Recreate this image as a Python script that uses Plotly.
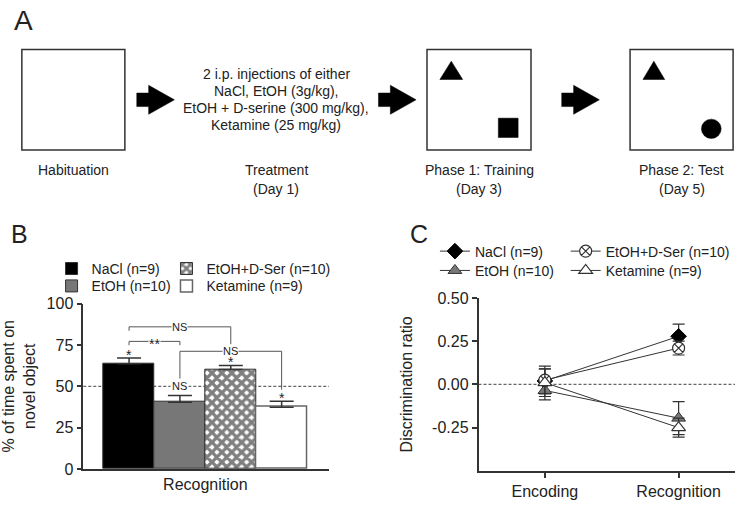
import plotly.graph_objects as go

W, H = 742, 505
FONT = "Liberation Sans, Arial, Helvetica, sans-serif"
INK = "#333333"

# ---------------- Panel B data ----------------
groups = ["NaCl (n=9)", "EtOH (n=10)", "EtOH+D-Ser (n=10)", "Ketamine (n=9)"]
pct_novel = [63.7, 40.4, 60.2, 37.4]
pct_sem = [3.5, 4.0, 2.4, 3.5]
bar_marks = ["*", "NS", "*", "*"]
chance_pct = 50
pct_ticks = [0, 25, 50, 75, 100]
# brackets: left bar, right bar, bracket level, left end, right end, label
comp_left = [0, 0, 1]
comp_right = [2, 1, 3]
comp_level = [86.0, 77.2, 71.2]
comp_left_end = [83.6, 74.9, 53.8]
comp_right_end = [75.4, 74.9, 48.0]
comp_label = ["NS", "**", "NS"]

# ---------------- Panel C data ----------------
phases = ["Encoding", "Recognition"]
disc_nacl = [0.02, 0.278]
disc_nacl_sem = [0.07, 0.07]
disc_etoh = [-0.035, -0.195]
disc_etoh_sem = [0.055, 0.095]
disc_dser = [0.025, 0.21]
disc_dser_sem = [0.08, 0.04]
disc_ket = [0.01, -0.25]
disc_ket_sem = [0.08, 0.055]
disc_ticks = [0.5, 0.25, 0.0, -0.25]
disc_ticktext = ["0.50", "0.25", "0.00", "-0.25"]


def X(px):
    return px / W


def Y(py):
    return 1 - py / H


fig = go.Figure()

# ---------------- Panel B bars ----------------
bar_styles = [
    dict(color="black", line=dict(color=INK, width=1)),
    dict(color="#777777", line=dict(color=INK, width=1)),
    dict(color="white", line=dict(color=INK, width=1),
         pattern=dict(shape="x", fgcolor="black", bgcolor="white", size=7, solidity=0.72)),
    dict(color="white", line=dict(color="#666666", width=1.5)),
]
legB = ["legend", "legend2", "legend3", "legend4"]
for i, g in enumerate(groups):
    fig.add_trace(go.Bar(
        x=[i], y=[pct_novel[i]], width=1, name=g, legend=legB[i],
        marker=bar_styles[i],
        error_y=dict(type="data", symmetric=False, array=[pct_sem[i]], arrayminus=[0],
                     color=INK, thickness=1.5, width=12),
        xaxis="x", yaxis="y",
    ))

# brackets
for k in range(len(comp_label)):
    a, b = comp_left[k], comp_right[k]
    fig.add_trace(go.Scatter(
        x=[a, a, b, b], y=[comp_left_end[k], comp_level[k], comp_level[k], comp_right_end[k]],
        mode="lines", line=dict(color="#555555", width=1), showlegend=False,
        hoverinfo="skip", xaxis="x", yaxis="y",
    ))

# ---------------- Panel C lines ----------------
series_c = [
    ("NaCl (n=9)", disc_nacl, disc_nacl_sem, dict(symbol="diamond", color="black", size=12,
                                                  line=dict(color="black", width=1)), "legend5"),
    ("EtOH (n=10)", disc_etoh, disc_etoh_sem, dict(symbol="triangle-up", color="#777777", size=12,
                                                   line=dict(color=INK, width=1)), "legend6"),
    ("EtOH+D-Ser (n=10)", disc_dser, disc_dser_sem, dict(symbol="circle-x", color="white", size=12,
                                                        line=dict(color=INK, width=1.2)), "legend7"),
    ("Ketamine (n=9)", disc_ket, disc_ket_sem, dict(symbol="triangle-up", color="white", size=12,
                                                    line=dict(color=INK, width=1.2)), "legend8"),
]
for name, vals, sems, mk, lg in series_c:
    fig.add_trace(go.Scatter(
        x=[0, 1], y=vals, name=name, legend=lg, mode="lines+markers",
        line=dict(color=INK, width=1), marker=mk,
        error_y=dict(type="data", array=sems, color=INK, thickness=1.2, width=6),
        xaxis="x2", yaxis="y2",
    ))

# ---------------- shapes ----------------
shapes = []
shapes.append(dict(type="line", xref="x domain", yref="y", x0=0, x1=1, y0=chance_pct, y1=chance_pct,
                   line=dict(color="#666666", width=1.2, dash="3px,2px"), layer="below"))
shapes.append(dict(type="line", xref="x2 domain", yref="y2", x0=0, x1=1, y0=0, y1=0,
                   line=dict(color="#666666", width=1.2, dash="3px,2px"), layer="below"))

# Panel A schematic
for (x0, y0, x1, y1) in [(15, 43, 119, 147), (424, 43, 529, 147), (629, 43, 733, 147)]:
    shapes.append(dict(type="rect", xref="paper", yref="paper", x0=X(x0), x1=X(x1), y0=Y(y1), y1=Y(y0),
                       line=dict(color=INK, width=1.5), fillcolor="white"))
for ax0 in [131, 375, 560]:
    pts = [(ax0, 88), (ax0 + 12, 88), (ax0 + 12, 80), (ax0 + 38, 95), (ax0 + 12, 110), (ax0 + 12, 102), (ax0, 102)]
    path = "M " + " L ".join(f"{X(p):.5f},{Y(q):.5f}" for p, q in pts) + " Z"
    shapes.append(dict(type="path", xref="paper", yref="paper", path=path, fillcolor="black",
                       line=dict(color="black", width=0.5)))
for tx0, tx1 in [(437, 460), (642, 664)]:
    pts = [(tx0, 74), ((tx0 + tx1) / 2, 55), (tx1, 74)]
    path = "M " + " L ".join(f"{X(p):.5f},{Y(q):.5f}" for p, q in pts) + " Z"
    shapes.append(dict(type="path", xref="paper", yref="paper", path=path, fillcolor="black",
                       line=dict(color="black", width=0.5)))
shapes.append(dict(type="rect", xref="paper", yref="paper", x0=X(496), x1=X(516), y0=Y(134), y1=Y(114),
                   fillcolor="black", line=dict(color="black", width=0.5)))
shapes.append(dict(type="circle", xref="paper", yref="paper", x0=X(701), x1=X(721), y0=Y(135), y1=Y(115),
                   fillcolor="black", line=dict(color="black", width=0.5)))

# ---------------- annotations ----------------
ann = []


def txt(px, py, s, size=14, **kw):
    ann.append(dict(x=X(px), y=Y(py), xref="paper", yref="paper", text=s, showarrow=False,
                    xanchor="center", yanchor="middle", font=dict(size=size, family=FONT, color="#222"), **kw))


txt(17, 13, "A", 28)
txt(12.5, 234, "B", 25)
txt(416, 234, "C", 25)
txt(67, 168, "Habituation")
txt(272, 168, "Treatment")
txt(272, 187, "(Day 1)")
txt(476.5, 168, "Phase 1: Training")
txt(476.5, 187, "(Day 3)")
txt(681, 168, "Phase 2: Test")
txt(681, 187, "(Day 5)")
for py, s in zip([68, 85.5, 103, 121], ["2 i.p. injections of either", "NaCl, EtOH (3g/kg),",
                                         "EtOH + D-serine (300 mg/kg),", "Ketamine (25 mg/kg)"]):
    txt(272, py, s)

# bracket labels first (white background breaks the bracket line)
for k, lab in enumerate(comp_label):
    mid = (comp_left[k] + comp_right[k]) / 2
    ann.append(dict(x=mid, y=comp_level[k], xref="x", yref="y", text=lab, showarrow=False,
                    yanchor="middle", yshift=-3 if lab == "**" else 0,
                    font=dict(size=14 if lab == "**" else 11, family=FONT, color="#222"),
                    bgcolor="white", borderpad=0))
# per-bar significance marks drawn on top
for i, m in enumerate(bar_marks):
    if m == "NS":
        ann.append(dict(x=i, y=pct_novel[i] + pct_sem[i], xref="x", yref="y", text=m, showarrow=False,
                        yanchor="middle", yshift=10, font=dict(size=11, family=FONT, color="#222"),
                        bgcolor="white", borderpad=1))
    else:
        ann.append(dict(x=i, y=pct_novel[i] + pct_sem[i], xref="x", yref="y", text=m, showarrow=False,
                        yanchor="middle", yshift=3, font=dict(size=14, family=FONT, color="#222")))

# ---------------- legends ----------------
legend_common = dict(xanchor="left", yanchor="middle", bgcolor="rgba(0,0,0,0)",
                     font=dict(size=14, family=FONT, color="#222"), borderwidth=0)
leg_pos = {
    "legend": (45, 270), "legend2": (45, 288), "legend3": (161, 270), "legend4": (161, 288),
    "legend5": (432, 252), "legend6": (432, 272), "legend7": (564, 252), "legend8": (564, 272),
}
legends = {k: dict(x=X(px), y=Y(py), **legend_common) for k, (px, py) in leg_pos.items()}

axis_common = dict(showline=True, linecolor=INK, linewidth=1.5, showgrid=False, zeroline=False,
                   tickfont=dict(size=16, family=FONT, color="#222"), tickcolor=INK, tickwidth=1.5)

fig.update_layout(
    width=W, height=H, margin=dict(l=0, r=0, t=0, b=0),
    paper_bgcolor="white", plot_bgcolor="white",
    font=dict(family=FONT, color="#222"),
    bargap=0, barmode="overlay", hovermode=False,
    shapes=shapes, annotations=ann,
    xaxis=dict(domain=[X(77), X(325)], range=[-0.9, 3.93], tickvals=[1.5], ticktext=["Recognition"],
               ticks="", anchor="y", fixedrange=True, **axis_common),
    yaxis=dict(domain=[Y(477), Y(306)], range=[0, 100], tickvals=pct_ticks, ticks="outside", ticklen=5,
               anchor="x", title=dict(text="% of time spent on<br>novel object",
                                      font=dict(size=16, family=FONT, color="#222")), **axis_common),
    xaxis2=dict(domain=[X(476), X(735)], range=[-0.496, 1.422], tickvals=[0, 1], ticktext=phases,
                ticks="outside", ticklen=5, anchor="y2", **axis_common),
    yaxis2=dict(domain=[Y(479), Y(300)], range=[-0.5, 0.5], tickvals=disc_ticks, ticktext=disc_ticktext,
                ticks="outside", ticklen=5, anchor="x2",
                title=dict(text="Discrimination ratio", font=dict(size=16, family=FONT, color="#222")),
                **axis_common),
    **legends,
)

fig.write_html("out.html", config={"displayModeBar": False},
               post_script="document.body.style.margin='0';document.body.style.padding='0';")
